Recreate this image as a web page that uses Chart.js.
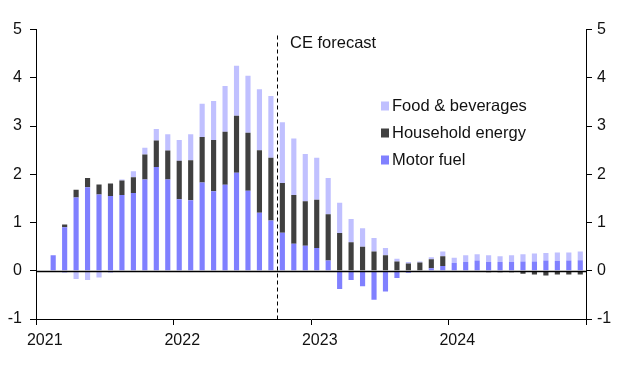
<!DOCTYPE html>
<html>
<head>
<meta charset="utf-8">
<script src="https://cdn.jsdelivr.net/npm/chart.js@4.4.1/dist/chart.umd.min.js"></script>
<style>
  html, body { margin: 0; padding: 0; background: #fff; }
  #wrap { width: 622px; height: 371px; }
</style>
</head>
<body>
<div id="wrap"><canvas id="chart"></canvas></div>
<script>
/* Monthly contributions (pp), Jan 2021 - Dec 2024. Jan 2021 has no bar. */
var years = ['2021', '2022', '2023', '2024'];
var monthNames = ['Jan', 'Feb', 'Mar', 'Apr', 'May', 'Jun', 'Jul', 'Aug', 'Sep', 'Oct', 'Nov', 'Dec'];
var months = [];
years.forEach(function (y) { monthNames.forEach(function (m) { months.push(m + ' ' + y); }); });

var motorFuel = [
  null, 0.32, 0.90, 1.52, 1.73, 1.58, 1.55, 1.57, 1.61, 1.89, 2.15, 1.89,   // 2021
  1.48, 1.46, 1.83, 1.65, 1.78, 2.03, 1.66, 1.20, 1.04, 0.79, 0.56, 0.52,   // 2022
  0.47, 0.21, -0.38, -0.19, -0.32, -0.60, -0.43, -0.15, -0.04, -0.02, 0.05, 0.10, // 2023
  0.16, 0.18, 0.21, 0.18, 0.18, 0.18, 0.19, 0.19, 0.21, 0.20, 0.21, 0.22    // 2024
];
var householdEnergy = [
  null, 0, 0.06, 0.16, 0.19, 0.21, 0.26, 0.30, 0.33, 0.52, 0.55, 0.60,
  0.80, 0.83, 0.94, 1.06, 1.10, 1.18, 1.20, 1.30, 1.30, 1.03, 1.01, 0.92,
  1.00, 0.96, 0.78, 0.59, 0.50, 0.40, 0.32, 0.19, 0.15, 0.17, 0.19, 0.20,
  0, 0, 0, -0.03, -0.03, -0.03, -0.06, -0.08, -0.10, -0.08, -0.08, -0.08
];
var foodBeverages = [
  null, 0, -0.04, -0.17, -0.19, -0.14, -0.04, 0.02, 0.12, 0.14, 0.24, 0.34,
  0.43, 0.54, 0.69, 0.81, 0.95, 1.04, 1.18, 1.26, 1.28, 1.26, 1.17, 0.98,
  0.87, 0.75, 0.63, 0.48, 0.38, 0.28, 0.15, 0.06, 0.03, 0.02, 0.04, 0.10,
  0.11, 0.14, 0.13, 0.14, 0.12, 0.14, 0.15, 0.17, 0.16, 0.18, 0.17, 0.18
];
var forecastStart = 'Oct 2022';
var forecastLabel = 'CE forecast';

var FONT = '"Liberation Sans", Arial, sans-serif';
var INK = '#111';

Chart.defaults.font.family = FONT;
Chart.defaults.font.size = 16;
Chart.defaults.color = INK;

/* zero line, forecast divider and the in-plot legend */
var overlay = {
  id: 'overlay',
  afterDatasetsDraw: function (chart) {
    var ctx = chart.ctx, area = chart.chartArea;
    var x = chart.scales.x, y = chart.scales.y;
    var i = months.indexOf(forecastStart);
    var px = Math.round((x.getPixelForValue(i - 1) + x.getPixelForValue(i)) / 2) + 0.5;
    var y0 = Math.round(y.getPixelForValue(0)) + 0.5;

    ctx.save();
    ctx.strokeStyle = '#000';
    ctx.lineWidth = 1.3;
    ctx.beginPath(); ctx.moveTo(area.left, y0); ctx.lineTo(area.right, y0); ctx.stroke();

    ctx.lineWidth = 1;
    ctx.setLineDash([4, 3]);
    ctx.beginPath(); ctx.moveTo(px, area.top + 6); ctx.lineTo(px, area.bottom); ctx.stroke();
    ctx.setLineDash([]);

    ctx.fillStyle = INK;
    ctx.font = '16.5px ' + FONT;
    ctx.textBaseline = 'middle';
    ctx.fillText(forecastLabel, px + 12.5, 43);

    var sets = chart.data.datasets.slice().reverse();
    sets.forEach(function (ds, k) {
      var cy = 106 + k * 27;
      ctx.fillStyle = ds.backgroundColor;
      ctx.fillRect(381, cy - 4.5, 8, 9);
      ctx.fillStyle = INK;
      ctx.fillText(ds.label, 392, cy);
    });
    ctx.restore();
  }
};

function yearTickColor(c) {
  if (!c.tick) return '#000';
  return c.index % 12 === 0 ? '#000' : 'rgba(0,0,0,0)';
}

new Chart(document.getElementById('chart'), {
  type: 'bar',
  data: {
    labels: months,
    datasets: [
      { label: 'Motor fuel', data: motorFuel, backgroundColor: '#8080ff' },
      { label: 'Household energy', data: householdEnergy, backgroundColor: '#404040' },
      { label: 'Food & beverages', data: foodBeverages, backgroundColor: '#c0c0ff' }
    ]
  },
  options: {
    responsive: true,
    maintainAspectRatio: false,
    animation: false,
    datasets: { bar: { barPercentage: 0.45, categoryPercentage: 1 } },
    layout: { padding: { top: 29.5, right: 0, bottom: 0, left: 0 } },
    plugins: { legend: { display: false }, tooltip: { enabled: false } },
    scales: {
      x: {
        stacked: true,
        grid: { drawOnChartArea: false, tickLength: 6, color: yearTickColor, tickColor: yearTickColor },
        border: { color: '#000' },
        ticks: {
          autoSkip: false, maxRotation: 0, padding: 6, labelOffset: 3,
          callback: function (v, i) { return i % 12 === 0 ? months[i].slice(4) : ''; }
        },
        afterFit: function (s) { s.height = 52; }
      },
      y: {
        stacked: true, position: 'left', min: -1, max: 5,
        grid: { drawOnChartArea: false, tickLength: 6, color: '#000' },
        border: { color: '#000' },
        ticks: { stepSize: 1, padding: 8 },
        afterFit: function (s) { s.width = 36; }
      },
      y2: {
        position: 'right', min: -1, max: 5,
        grid: { drawOnChartArea: false, tickLength: 6, color: '#000' },
        border: { color: '#000' },
        ticks: { stepSize: 1, padding: 5 },
        afterFit: function (s) { s.width = 36; }
      }
    }
  },
  plugins: [overlay]
});
</script>
</body>
</html>
